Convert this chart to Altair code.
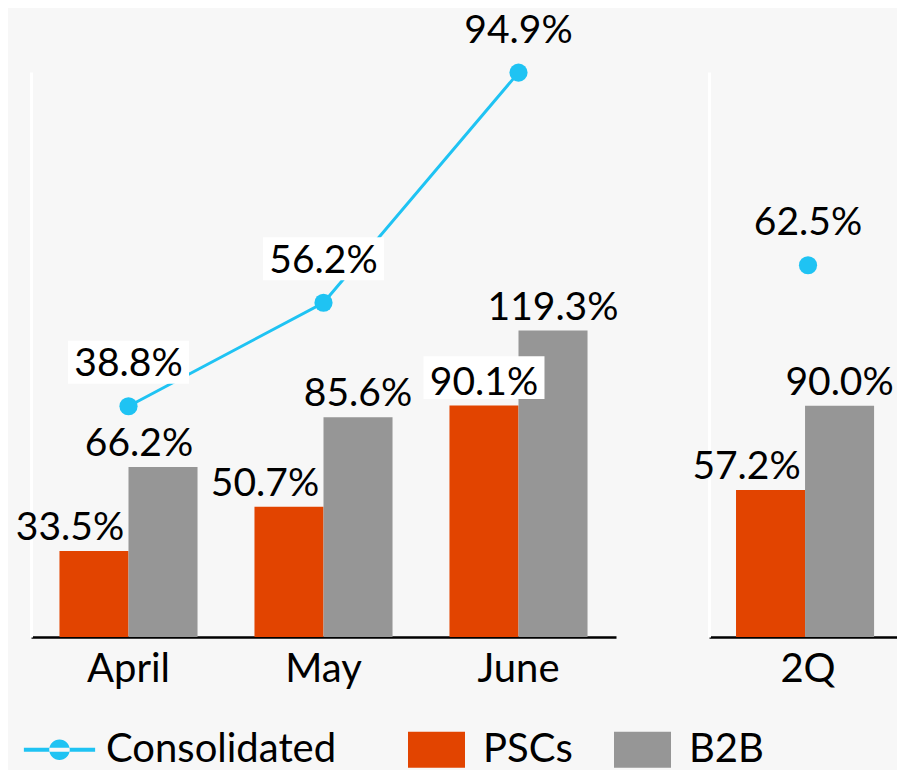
import altair as alt
import pandas as pd

# ---- data ----
months = ["April", "May", "June"]
quarter = ["2Q"]
pscs_month = [33.5, 50.7, 90.1]
b2b_month = [66.2, 85.6, 119.3]
cons_month = [38.8, 56.2, 94.9]
pscs_q = [57.2]
b2b_q = [90.0]
cons_q = [62.5]
series_names = ["Consolidated", "PSCs", "B2B"]
series_colors = ["#1FC3F3", "#E24400", "#969696"]

FONT = "Lato"
LBL = 39

LINE_SYM = ("M-1.25,-0.07H1.25V0.07H-1.25Z "
            "M-0.36,0A0.36,0.36 0 1,0 0.36,0A0.36,0.36 0 1,0 -0.36,0Z")
RECT_SYM = "M-1,-0.63H1V0.63H-1Z"
LINE_BOX = "M-1,-0.355H1V0.355H-1Z"


def bars_frame(cats, pscs, b2b):
    rows = []
    for c, p, b in zip(cats, pscs, b2b):
        rows.append({"period": c, "series": "PSCs", "value": p})
        rows.append({"period": c, "series": "B2B", "value": b})
    return pd.DataFrame(rows)


def line_frame(cats, cons):
    return pd.DataFrame({"period": cats, "series": "Consolidated", "value": cons})


color_scale = alt.Scale(domain=series_names, range=series_colors)
shape_scale = alt.Scale(domain=series_names, range=[LINE_SYM, RECT_SYM, RECT_SYM])
legend = alt.Legend(
    title=None, orient="bottom", direction="horizontal",
    labelFont=FONT, labelFontSize=40, labelColor="black", labelLimit=500,
    labelExpr="datum.label == 'Consolidated' ? 'Consolidated\u00a0\u00a0\u00a0\u200b' : datum.label",
    symbolSize=3249, symbolStrokeWidth=0, symbolOpacity=1,
    labelOffset=18, columnPadding=41, offset=32,
)


def panel(cats, pscs, b2b, cons, width, xscale, with_legend_layer):
    bdf = bars_frame(cats, pscs, b2b)
    ldf = line_frame(cats, cons)
    x = alt.X(
        "period:N", sort=cats,
        scale=xscale,
        axis=alt.Axis(title=None, labelAngle=0, labelFont=FONT, labelFontSize=40,
                      labelColor="black", labelPadding=12, ticks=False, tickSize=0,
                      domainColor="black", domainWidth=2.5, grid=False),
    )
    xo = alt.XOffset("series:N", scale=alt.Scale(domain=["PSCs", "B2B"], paddingInner=0, paddingOuter=0))
    ybar = alt.Y("value:Q", scale=alt.Scale(domain=[0, 220], nice=False),
                 axis=alt.Axis(title=None, labels=False, ticks=False, grid=False,
                               domainColor="white", domainWidth=3))
    yline = alt.Y("value:Q", scale=alt.Scale(domain=[0, 95], nice=False), axis=None)

    bar_base = alt.Chart(bdf).transform_calculate(label="format(datum.value, '.1f') + '%'")
    line_base = alt.Chart(ldf).transform_calculate(label="format(datum.value, '.1f') + '%'")

    bars = bar_base.mark_bar().encode(
        x=x, xOffset=xo, y=ybar,
        color=alt.Color("series:N", scale=color_scale, legend=legend),
    )
    shifted = "datum.period == 'April' || (datum.series == 'PSCs' && datum.period != 'June')"
    bar_text_a = bar_base.transform_filter("!(" + shifted + ")").mark_text(
        font=FONT, fontSize=LBL, color="black", baseline="alphabetic", dy=-11
    ).encode(x=x, xOffset=xo, y=ybar, text="label:N")
    bar_text_b = bar_base.transform_filter(shifted).mark_text(
        font=FONT, fontSize=LBL, color="black", baseline="alphabetic", dy=-11, dx=-24
    ).encode(x=x, xOffset=xo, y=ybar, text="label:N")
    bar_box = bar_base.transform_filter(
        "datum.period == 'June' && datum.series == 'PSCs'"
    ).mark_point(shape=LINE_BOX, size=14641, filled=True, color="white", opacity=1, yOffset=-28).encode(
        x=x, xOffset=xo, y=ybar)

    line = line_base.mark_line(strokeWidth=3).encode(
        x=x, y=yline, color=alt.Color("series:N", scale=color_scale, legend=legend))
    pts = line_base.mark_circle(size=330, opacity=1).encode(
        x=x, y=yline, color=alt.Color("series:N", scale=color_scale, legend=legend))
    line_box = line_base.transform_filter("datum.value < 60 && datum.period != '2Q'").mark_point(
        shape=LINE_BOX, size=14641, filled=True, color="white", opacity=1, yOffset=-44
    ).encode(x=x, y=yline)
    line_text = line_base.mark_text(
        font=FONT, fontSize=LBL, color="black", baseline="alphabetic", dy=-30
    ).encode(x=x, y=yline, text="label:N")

    bar_layer = alt.layer(bars, bar_box, bar_text_a, bar_text_b)
    line_layers = [line, pts, line_box, line_text]
    if with_legend_layer:
        dummy = line_base.transform_filter("false").mark_point(filled=True).encode(
            x=x, y=yline,
            color=alt.Color("series:N", scale=color_scale, legend=legend),
            shape=alt.Shape("series:N", scale=shape_scale, legend=legend),
        )
        line_layers.append(dummy)
    line_layer = alt.layer(*line_layers)
    ch = alt.layer(bar_layer, line_layer)
    return ch.resolve_scale(y="independent").properties(width=width, height=565)


left = panel(months, pscs_month, b2b_month, cons_month, 585,
             alt.Scale(domain=months, paddingInner=0.292, paddingOuter=0.146), True)
right = panel(quarter, pscs_q, b2b_q, cons_q, 188,
              alt.Scale(domain=quarter, paddingInner=0, paddingOuter=0.1528, align=0.614), False)

chart = alt.hconcat(left, right, spacing=93, bounds="flush").properties(
    background="#F7F7F7",
    padding={"left": 7, "top": 3, "right": 0, "bottom": 0},
).configure_view(stroke=None)

chart.save("out.html", embed_options={"renderer": "svg", "actions": False})
